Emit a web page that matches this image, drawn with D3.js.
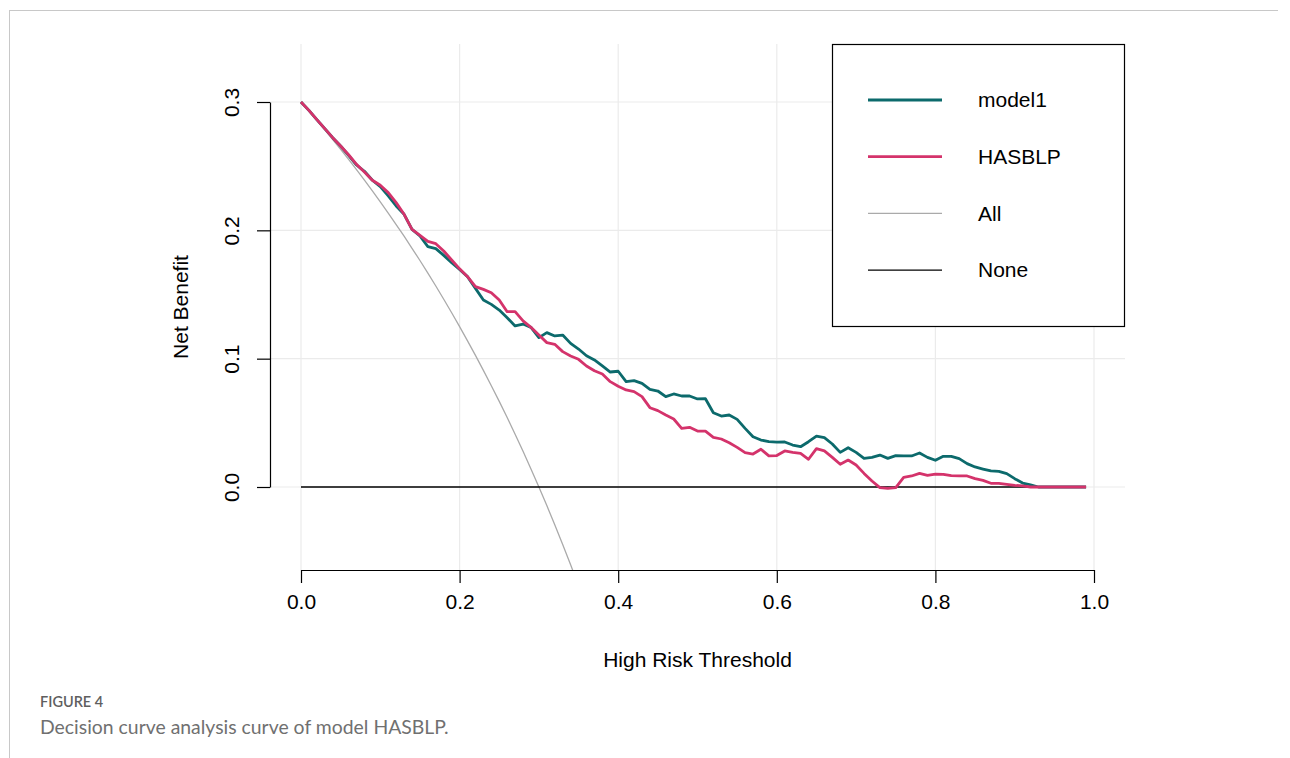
<!DOCTYPE html>
<html>
<head>
<meta charset="utf-8">
<script src="https://cdn.jsdelivr.net/npm/d3@7"></script>
<style>
  body { margin: 0; background: #fff; }
  svg { display: block; }
</style>
</head>
<body>
<svg id="dca" width="1290" height="758"></svg>
<script>
// 1: DATA
const thresholds = d3.range(100).map(i => i / 100);

const model1 = [
  0.300, 0.2935, 0.2862, 0.2792, 0.2722, 0.2657, 0.2584, 0.2509, 0.2460, 0.2390,
  0.2340, 0.2268, 0.2190, 0.2125, 0.2008, 0.1956, 0.1873, 0.1857, 0.1805, 0.1748,
  0.1695, 0.1639, 0.1548, 0.1457, 0.1423, 0.1379, 0.1319, 0.1255, 0.1270, 0.1244,
  0.1164, 0.1203, 0.1177, 0.1184, 0.1119, 0.1075, 0.1023, 0.0990, 0.0943, 0.0896,
  0.0902, 0.0821, 0.0829, 0.0808, 0.0761, 0.0748, 0.0704, 0.0725, 0.0709, 0.0709,
  0.0686, 0.0688, 0.0579, 0.0553, 0.0561, 0.0527, 0.0457, 0.0392, 0.0366, 0.0353,
  0.0350, 0.0351, 0.0327, 0.0314, 0.0353, 0.0397, 0.0384, 0.0335, 0.0270, 0.0306,
  0.0270, 0.0223, 0.0231, 0.0249, 0.0223, 0.0244, 0.0242, 0.0242, 0.0265, 0.0231,
  0.0208, 0.0239, 0.0239, 0.0221, 0.0182, 0.0156, 0.0140, 0.0125, 0.0122, 0.0104,
  0.0065, 0.0031, 0.0016, 0, 0, 0, 0, 0, 0, 0
];

const hasblp = [
  0.300, 0.2935, 0.2862, 0.2792, 0.2722, 0.2657, 0.2589, 0.2514, 0.2455, 0.2390,
  0.2351, 0.2294, 0.2216, 0.2125, 0.2008, 0.1961, 0.1914, 0.1896, 0.1839, 0.1769,
  0.1700, 0.1639, 0.1561, 0.1540, 0.1514, 0.1457, 0.1366, 0.1366, 0.1294, 0.1244,
  0.1184, 0.1125, 0.1112, 0.1055, 0.1021, 0.0995, 0.0943, 0.0906, 0.0881, 0.0821,
  0.0785, 0.0756, 0.0743, 0.0704, 0.0618, 0.0595, 0.0561, 0.0530, 0.0457, 0.0465,
  0.0436, 0.0436, 0.0387, 0.0374, 0.0345, 0.0309, 0.0268, 0.0257, 0.0294, 0.0242,
  0.0245, 0.0281, 0.0270, 0.0262, 0.0216, 0.0299, 0.0281, 0.0231, 0.0177, 0.0210,
  0.0171, 0.0106, 0.0047, -0.0005, -0.0010, -0.0005, 0.0075, 0.0086, 0.0106, 0.0091,
  0.0100, 0.0099, 0.0088, 0.0086, 0.0086, 0.0065, 0.0052, 0.0029, 0.0029, 0.0021,
  0.0013, 0.0008, 0, 0, 0, 0, 0, 0, 0, 0
];

// treat-all curve, thresholds 0.00 .. 0.35 (clipped by the plot region)
const allThresholds = d3.range(36).map(i => i / 100);
const treatAll = [
  0.3000, 0.2929, 0.2857, 0.2784, 0.2708, 0.2632, 0.2553, 0.2473, 0.2391, 0.2308,
  0.2222, 0.2135, 0.2045, 0.1954, 0.1860, 0.1765, 0.1667, 0.1566, 0.1463, 0.1358,
  0.1250, 0.1139, 0.1026, 0.0909, 0.0789, 0.0667, 0.0541, 0.0411, 0.0278, 0.0141,
  0.0000, -0.0145, -0.0294, -0.0448, -0.0606, -0.0769
];

const xTicks = [0, 0.2, 0.4, 0.6, 0.8, 1.0];
const yTicks = [0, 0.1, 0.2, 0.3];

const legendItems = [
  { label: "model1", color: "#0c6a6c", width: 2.8 },
  { label: "HASBLP", color: "#d4336b", width: 2.8 },
  { label: "All", color: "#aaaaaa", width: 1.3 },
  { label: "None", color: "#000000", width: 1.3 }
];

// 2: LAYOUT
const plot = { left: 270, right: 1125, top: 44, bottom: 570 };
const svg = d3.select("#dca");
const font = "'Liberation Sans', Arial, sans-serif";
const fontSize = "21px";

// 3: SCALES
const x = d3.scaleLinear().domain([0, 1]).range([301, 1094]);
const y = d3.scaleLinear().domain([0, 0.3]).range([487, 102]);

// page frame
svg.append("line").attr("x1", 10).attr("x2", 1278).attr("y1", 10.5).attr("y2", 10.5)
  .attr("stroke", "#c8c8c8").attr("stroke-width", 1);
svg.append("line").attr("x1", 9.5).attr("x2", 9.5).attr("y1", 10).attr("y2", 758)
  .attr("stroke", "#c8c8c8").attr("stroke-width", 1);

// 4: GRID
svg.append("g").selectAll("line").data(xTicks).enter().append("line")
  .attr("x1", d => x(d)).attr("x2", d => x(d))
  .attr("y1", plot.top).attr("y2", plot.bottom)
  .attr("stroke", "#ebebeb").attr("stroke-width", 1.2);

svg.append("g").selectAll("line").data(yTicks).enter().append("line")
  .attr("x1", plot.left).attr("x2", plot.right)
  .attr("y1", d => y(d)).attr("y2", d => y(d))
  .attr("stroke", "#ebebeb").attr("stroke-width", 1.2);

// 5: LINES
svg.append("clipPath").attr("id", "plotClip").append("rect")
  .attr("x", plot.left).attr("y", plot.top)
  .attr("width", plot.right - plot.left).attr("height", plot.bottom - plot.top);

const lines = svg.append("g").attr("clip-path", "url(#plotClip)");
const line = d3.line().x(d => x(d[0])).y(d => y(d[1]));

lines.append("path")
  .datum(d3.zip(allThresholds, treatAll))
  .attr("fill", "none").attr("stroke", legendItems[2].color).attr("stroke-width", legendItems[2].width)
  .attr("d", line);

lines.append("path")
  .datum(thresholds.map(t => [t, 0]))
  .attr("fill", "none").attr("stroke", legendItems[3].color).attr("stroke-width", legendItems[3].width)
  .attr("d", line);

lines.append("path")
  .datum(d3.zip(thresholds, model1))
  .attr("fill", "none").attr("stroke", legendItems[0].color).attr("stroke-width", legendItems[0].width)
  .attr("stroke-linejoin", "round")
  .attr("d", line);

lines.append("path")
  .datum(d3.zip(thresholds, hasblp))
  .attr("fill", "none").attr("stroke", legendItems[1].color).attr("stroke-width", legendItems[1].width)
  .attr("stroke-linejoin", "round")
  .attr("d", line);

// 6: AXES
const xAxis = svg.append("g")
  .attr("transform", `translate(0,${plot.bottom})`)
  .call(d3.axisBottom(x).tickValues(xTicks).tickFormat(d3.format(".1f"))
    .tickSize(13).tickSizeOuter(0).tickPadding(11));

const yAxis = svg.append("g")
  .attr("transform", `translate(${plot.left},0)`)
  .call(d3.axisLeft(y).tickValues(yTicks).tickFormat(d3.format(".1f"))
    .tickSize(13).tickSizeOuter(0));

[xAxis, yAxis].forEach(g => {
  g.selectAll("path, line").attr("stroke", "#000").attr("stroke-width", 1.2);
  g.selectAll("text").attr("fill", "#000").style("font-family", font).style("font-size", fontSize);
});

// rotate y tick labels like R's default las=0
yAxis.selectAll(".tick text")
  .attr("transform", "rotate(-90)")
  .attr("x", 0).attr("y", -38)
  .attr("dy", "0.35em")
  .attr("text-anchor", "middle");

// 7: LABELS
svg.append("text")
  .attr("x", (plot.left + plot.right) / 2)
  .attr("y", 667)
  .attr("text-anchor", "middle")
  .style("font-family", font).style("font-size", fontSize)
  .text("High Risk Threshold");

svg.append("text")
  .attr("transform", `translate(188,${(plot.top + plot.bottom) / 2}) rotate(-90)`)
  .attr("text-anchor", "middle")
  .style("font-family", font).style("font-size", fontSize)
  .text("Net Benefit");

// legend
svg.append("rect")
  .attr("x", 832.5).attr("y", 44.5).attr("width", 292).attr("height", 282)
  .attr("fill", "#fff").attr("stroke", "#000").attr("stroke-width", 1.2);

legendItems.forEach((d, i) => {
  const ly = 100 + i * 56.7;
  svg.append("line")
    .attr("x1", 868).attr("x2", 942).attr("y1", ly).attr("y2", ly)
    .attr("stroke", d.color).attr("stroke-width", d.width);
  svg.append("text")
    .attr("x", 978).attr("y", ly)
    .attr("dy", "0.35em")
    .style("font-family", font).style("font-size", fontSize)
    .text(d.label);
});

// caption
svg.append("text")
  .attr("x", 40).attr("y", 707)
  .attr("fill", "#5f5f5f")
  .style("font-family", "Lato, 'Open Sans', sans-serif").style("font-size", "14.5px").style("font-weight", 600)
  .text("FIGURE 4");

svg.append("text")
  .attr("x", 40).attr("y", 734)
  .attr("fill", "#707070")
  .style("font-family", "Lato, 'Open Sans', sans-serif").style("font-size", "19.4px")
  .text("Decision curve analysis curve of model HASBLP.");
</script>
</body>
</html>
